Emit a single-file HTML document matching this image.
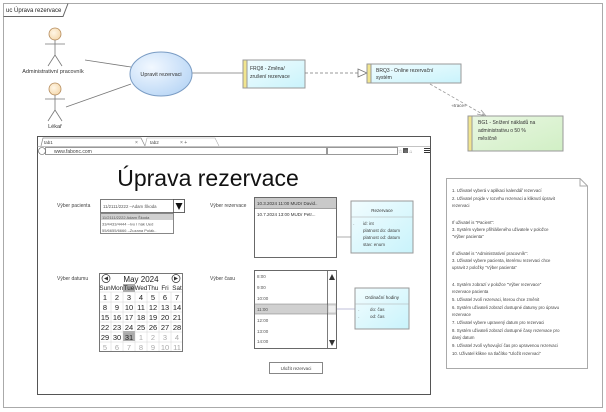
<!DOCTYPE html>
<html><head><meta charset="utf-8"><style>
html,body{margin:0;padding:0;background:#fff;}
svg{display:block;font-family:"Liberation Sans",sans-serif;}
</style></head><body>
<svg width="606" height="412" viewBox="0 0 606 412" xmlns="http://www.w3.org/2000/svg">
<defs>
<linearGradient id="cy" x1="0" y1="0" x2="1" y2="1"><stop offset="0" stop-color="#f2fdff"/><stop offset="1" stop-color="#c9f3fb"/></linearGradient>
<linearGradient id="gr" x1="0" y1="0" x2="1" y2="1"><stop offset="0" stop-color="#e9f7e2"/><stop offset="1" stop-color="#d1efc5"/></linearGradient>
<radialGradient id="el" cx="0.35" cy="0.35" r="0.7"><stop offset="0" stop-color="#f2f8ff"/><stop offset="1" stop-color="#bcd8f6"/></radialGradient>
<radialGradient id="hd" cx="0.4" cy="0.4" r="0.7"><stop offset="0" stop-color="#fff6e6"/><stop offset="1" stop-color="#f4d6a8"/></radialGradient>
</defs>
<!-- frame -->
<rect x="3.5" y="3.5" width="599" height="404" fill="#fff" stroke="#aaa"/>
<path d="M3.5 16.5 H63 L68 3.5" fill="none" stroke="#666"/>
<text x="6" y="12" font-size="6" fill="#222">uc Úprava rezervace</text>

<!-- actors -->
<g stroke="#777" fill="none" stroke-width="0.8">
<circle cx="55" cy="34" r="6" fill="url(#hd)" stroke="#b48a5a"/>
<line x1="55" y1="40" x2="55" y2="55"/><line x1="45" y1="44" x2="65" y2="44"/>
<line x1="55" y1="55" x2="48" y2="66"/><line x1="55" y1="55" x2="62" y2="66"/>
<circle cx="55" cy="89" r="6" fill="url(#hd)" stroke="#b48a5a"/>
<line x1="55" y1="95" x2="55" y2="110"/><line x1="45" y1="99" x2="65" y2="99"/>
<line x1="55" y1="110" x2="48" y2="121"/><line x1="55" y1="110" x2="62" y2="121"/>
<line x1="85" y1="60" x2="131" y2="67"/>
<line x1="66" y1="107" x2="131" y2="84"/>
<line x1="192" y1="73" x2="243" y2="73"/>
</g>
<text x="53" y="73" font-size="5.5" text-anchor="middle" fill="#333">Administrativní pracovník</text>
<text x="55" y="128" font-size="5.5" text-anchor="middle" fill="#333">Lékař</text>
<ellipse cx="161" cy="74" rx="31" ry="22" fill="url(#el)" stroke="#7a9cc4"/>
<text x="161" y="76" font-size="5.5" text-anchor="middle" fill="#333">Upravit rezervaci</text>

<!-- requirement boxes -->
<rect x="243" y="60" width="62" height="28" fill="url(#cy)" stroke="#999"/>
<rect x="243" y="60" width="4" height="28" fill="#f1e58f" stroke="#999"/>
<text x="250" y="70" font-size="5" fill="#333">FRQ8 - Změna/</text>
<text x="250" y="78" font-size="5" fill="#333">zrušení rezervace</text>

<line x1="305" y1="73" x2="358" y2="73" stroke="#777" stroke-dasharray="3,2" stroke-width="0.8"/>
<path d="M358 69 L367 73 L358 77 Z" fill="#fff" stroke="#777" stroke-width="0.8"/>

<rect x="367" y="64" width="94" height="19" fill="url(#cy)" stroke="#999"/>
<rect x="367" y="64" width="4" height="19" fill="#f1e58f" stroke="#999"/>
<text x="376" y="72" font-size="5" fill="#333">BRQ3 - Online rezervační</text>
<text x="376" y="79" font-size="5" fill="#333">systém</text>

<line x1="430" y1="84" x2="484" y2="115" stroke="#999" stroke-dasharray="3,2" stroke-width="0.8"/>
<path d="M477 114 L486 116 L481 110" fill="none" stroke="#999" stroke-width="0.8"/>
<text x="459" y="107" font-size="4.5" text-anchor="middle" fill="#555">«trace»</text>

<rect x="468" y="116" width="95" height="35" fill="url(#gr)" stroke="#999"/>
<rect x="468" y="116" width="4" height="35" fill="#f1e58f" stroke="#999"/>
<text x="478" y="124" font-size="5" fill="#333">BG1 - Snížení nákladů na</text>
<text x="478" y="132" font-size="5" fill="#333">administrativu o 50 %</text>
<text x="478" y="140" font-size="5" fill="#333">měsíčně</text>

<!-- browser -->
<rect x="37.5" y="136.5" width="393" height="258" fill="#fff" stroke="#555"/>
<path d="M41 146 L43 138 H141 L145 146" fill="#fff" stroke="#888" stroke-width="0.7"/>
<path d="M145 146 L147 138 H215 L219 146" fill="#fff" stroke="#aaa" stroke-width="0.6"/>
<text x="44" y="144" font-size="4.5" fill="#444">tab1</text>
<text x="150" y="144" font-size="4.5" fill="#444">tab2</text>
<text x="135" y="144" font-size="5" fill="#666">×</text>
<text x="180" y="144" font-size="5" fill="#666">× +</text>
<line x1="37" y1="146.5" x2="430" y2="146.5" stroke="#888" stroke-width="0.6"/>
<circle cx="42" cy="151" r="3.5" fill="#fff" stroke="#555" stroke-width="0.6"/>
<rect x="45.5" y="147.5" width="281" height="7" fill="#fff" stroke="#555" stroke-width="0.6"/>
<text x="54" y="153" font-size="5" fill="#444">www.fabonc.com</text>
<rect x="327.5" y="147.5" width="70" height="7" fill="#fff" stroke="#555" stroke-width="0.6"/>
<rect x="403" y="148" width="5" height="5" fill="#555"/>
<text x="398" y="153" font-size="5" fill="#888">☆    ⊕ ⌂</text>
<rect x="424" y="148" width="6" height="1" fill="#333"/><rect x="424" y="150" width="6" height="1" fill="#333"/><rect x="424" y="152" width="6" height="1" fill="#333"/>

<text x="208" y="186" font-size="23" text-anchor="middle" fill="#111">Úprava rezervace</text>

<text x="57" y="207" font-size="5" fill="#444">Výber pacienta</text>
<rect x="100.5" y="199.5" width="84" height="13" fill="#fff" stroke="#444" stroke-width="0.7"/>
<text x="103" y="208" font-size="4.3" fill="#555">11/2111/2222 –Adam Škoda</text>
<rect x="173.5" y="199.5" width="11" height="13" fill="#fff" stroke="#444" stroke-width="0.7"/>
<path d="M175.5 203 H182.5 L179 210 Z" fill="#111"/>
<rect x="100.5" y="213.5" width="73" height="20" fill="#fff" stroke="#555" stroke-width="0.7"/>
<rect x="101" y="214" width="72" height="6" fill="#d0d0d0"/>
<text x="102" y="219" font-size="4" fill="#555">11/2111/2222  Adam Škoda</text>
<text x="102" y="225.5" font-size="4" fill="#555">33/4433/4444 –Ivo I hák Ued</text>
<text x="102" y="232" font-size="4" fill="#555">55/6655/6666 –Zuzana Polák..</text>

<text x="210" y="207" font-size="5" fill="#444">Výber rezervace</text>
<rect x="254.5" y="197.5" width="82" height="60" fill="#fff" stroke="#444" stroke-width="0.8"/>
<rect x="255" y="198" width="81" height="10" fill="#c9c9c9"/>
<line x1="254" y1="208.5" x2="336" y2="208.5" stroke="#444" stroke-width="0.6"/>
<text x="257" y="205" font-size="4.5" fill="#333">10.3.2024   11:00   MUDr David..</text>
<text x="257" y="216" font-size="4.5" fill="#333">10.7.2024   13:00   MUDr Petr...</text>
<line x1="336" y1="237" x2="351" y2="237" stroke="#888" stroke-width="0.7"/>
<rect x="351" y="201" width="62" height="52" fill="url(#cy)" stroke="#999"/>
<line x1="351" y1="217" x2="413" y2="217" stroke="#aaa" stroke-width="0.6"/>
<text x="382" y="212" font-size="4.5" text-anchor="middle" fill="#333">Rezervace</text>
<text x="353" y="225" font-size="4" fill="#777">-</text>
<text x="363" y="225" font-size="4.5" fill="#444">id: int</text>
<text x="363" y="232" font-size="4.5" fill="#444">platnost  do: datum</text>
<text x="363" y="239" font-size="4.5" fill="#444">platnost  od: datum</text>
<text x="363" y="246" font-size="4.5" fill="#444">stav: enum</text>

<text x="57" y="280" font-size="5" fill="#444">Výber datumu</text>
<g font-family="Liberation Sans,sans-serif">
<rect x="99.5" y="273.5" width="83" height="78" fill="#fff" stroke="#555" stroke-width="0.8"/>
<circle cx="106" cy="278.5" r="4" fill="#fff" stroke="#333" stroke-width="0.7"/><path d="M108 276.5 L104 278.5 L108 280.5Z" fill="#333"/>
<circle cx="176" cy="278.5" r="4" fill="#fff" stroke="#333" stroke-width="0.7"/><path d="M174 276.5 L178 278.5 L174 280.5Z" fill="#333"/>
<text x="141" y="282" font-size="8" text-anchor="middle" fill="#222">May 2024</text>
<rect x="123" y="284" width="12" height="8" fill="#aaa"/>
<rect x="123" y="331" width="12" height="10" fill="#aaa"/>
<g font-size="6.3" fill="#222" text-anchor="middle">
<text x="105" y="290">Sun</text><text x="117" y="290">Mon</text><text x="129" y="290">Tue</text><text x="141" y="290">Wed</text><text x="153" y="290">Thu</text><text x="165" y="290">Fri</text><text x="177" y="290">Sat</text>
</g>
<g font-size="7.5" fill="#222" text-anchor="middle">
<text x="105" y="300">1</text><text x="117" y="300">2</text><text x="129" y="300">3</text><text x="141" y="300">4</text><text x="153" y="300">5</text><text x="165" y="300">6</text><text x="177" y="300">7</text>
<text x="105" y="310">8</text><text x="117" y="310">9</text><text x="129" y="310">10</text><text x="141" y="310">11</text><text x="153" y="310">12</text><text x="165" y="310">13</text><text x="177" y="310">14</text>
<text x="105" y="320">15</text><text x="117" y="320">16</text><text x="129" y="320">17</text><text x="141" y="320">18</text><text x="153" y="320">19</text><text x="165" y="320">20</text><text x="177" y="320">21</text>
<text x="105" y="330">22</text><text x="117" y="330">23</text><text x="129" y="330">24</text><text x="141" y="330">25</text><text x="153" y="330">26</text><text x="165" y="330">27</text><text x="177" y="330">28</text>
<text x="105" y="340">29</text><text x="117" y="340">30</text><text x="129" y="340">31</text>
</g>
<g font-size="7.5" fill="#aaa" text-anchor="middle">
<text x="141" y="340">1</text><text x="153" y="340">2</text><text x="165" y="340">3</text><text x="177" y="340">4</text>
<text x="105" y="350">5</text><text x="117" y="350">6</text><text x="129" y="350">7</text><text x="141" y="350">8</text><text x="153" y="350">9</text><text x="165" y="350">10</text><text x="177" y="350">11</text>
</g>
<g stroke="#ccc" stroke-width="0.4">
<line x1="111" y1="292" x2="111" y2="351"/><line x1="123" y1="292" x2="123" y2="351"/><line x1="135" y1="292" x2="135" y2="351"/><line x1="147" y1="292" x2="147" y2="351"/><line x1="159" y1="292" x2="159" y2="351"/><line x1="171" y1="292" x2="171" y2="351"/>
<line x1="100" y1="292" x2="182" y2="292"/><line x1="100" y1="302" x2="182" y2="302"/><line x1="100" y1="312" x2="182" y2="312"/><line x1="100" y1="322" x2="182" y2="322"/><line x1="100" y1="332" x2="182" y2="332"/><line x1="100" y1="342" x2="182" y2="342"/>
</g>
</g>

<text x="210" y="280" font-size="5" fill="#444">Výber času</text>
<rect x="254.5" y="270.5" width="82" height="78" fill="#fff" stroke="#444" stroke-width="0.8"/>
<rect x="255" y="304" width="72" height="10" fill="#d0d0d0"/>
<line x1="254" y1="304" x2="337" y2="304" stroke="#777" stroke-width="0.5"/><line x1="254" y1="314" x2="337" y2="314" stroke="#777" stroke-width="0.5"/>
<line x1="327.5" y1="271" x2="327.5" y2="348" stroke="#444" stroke-width="0.7"/>
<path d="M329 280 L332 274 L335 280Z" fill="#333"/>
<path d="M329 340 L332 346 L335 340Z" fill="#333"/>
<rect x="328" y="305" width="8" height="8" fill="#eee" stroke="#999" stroke-width="0.4"/>
<g font-size="4.5" fill="#555">
<text x="257" y="278">8:00</text><text x="257" y="289">9:00</text><text x="257" y="300">10:00</text><text x="257" y="311">11:00</text><text x="257" y="322">12:00</text><text x="257" y="333">13:00</text><text x="257" y="343">14:00</text>
</g>
<line x1="337" y1="309" x2="355" y2="309" stroke="#aac" stroke-width="0.7"/>
<rect x="355" y="288" width="54" height="41" fill="url(#cy)" stroke="#999"/>
<line x1="355" y1="304" x2="409" y2="304" stroke="#aaa" stroke-width="0.6"/>
<text x="382" y="299" font-size="4.5" text-anchor="middle" fill="#333">Ordinační hodiny</text>
<text x="358" y="311" font-size="4" fill="#777">-</text><text x="370" y="311" font-size="4.5" fill="#444">do: čas</text>
<text x="358" y="318" font-size="4" fill="#777">-</text><text x="370" y="318" font-size="4.5" fill="#444">od: čas</text>

<rect x="269.5" y="362.5" width="53" height="11" fill="#fff" stroke="#555" stroke-width="0.7"/>
<text x="296" y="370" font-size="4.5" text-anchor="middle" fill="#444">Uložit rezervaci</text>

<!-- note -->
<path d="M446.5 178.5 H580 L587.5 186 V368.5 H446.5 Z" fill="#fff" stroke="#aaa"/>
<path d="M580 178.5 V186 H587.5" fill="none" stroke="#aaa"/>
<g font-size="4.3" fill="#444">
<text x="452" y="192">1. Uživatel vyberá v aplikaci kalendář rezervací</text>
<text x="452" y="200">2. Uživatel projde v rozvrhu rezervaci a kliknutí úpravit</text>
<text x="452" y="207">rezervaci</text>
<text x="452" y="224">If uživatel is "Pacient":</text>
<text x="452" y="231">3. Systém vybere přihlášeného uživatele v položce</text>
<text x="452" y="238">"Výber pacienta"</text>
<text x="452" y="255">If uživatel is "Administrativní pracovník":</text>
<text x="452" y="262">3. Uživatel vybere pacienta, kterému rezervaci chce</text>
<text x="452" y="269">upravit z položky "Výber pacienta"</text>
<text x="452" y="286">4. Systém zobrazí v položce "Výber rezervace"</text>
<text x="452" y="293">rezervace pacienta</text>
<text x="452" y="301">5. Uživatel zvolí rezervaci, kterou chce změnit</text>
<text x="452" y="309">6. Systém uživateli zobrazí dostupné datumy pro úpravu</text>
<text x="452" y="316">rezervace</text>
<text x="452" y="324">7. Uživatel vybere upravený datum pro rezervaci</text>
<text x="452" y="332">8. Systém uživateli zobrazí dostupné časy rezervace pro</text>
<text x="452" y="339">daný datum</text>
<text x="452" y="347">9. Uživatel zvolí vyhovující čas pro upravenou rezervaci</text>
<text x="452" y="355">10. Uživatel klikne na tlačítko "Uložit rezervaci"</text>
</g>
</svg>
</body></html>
